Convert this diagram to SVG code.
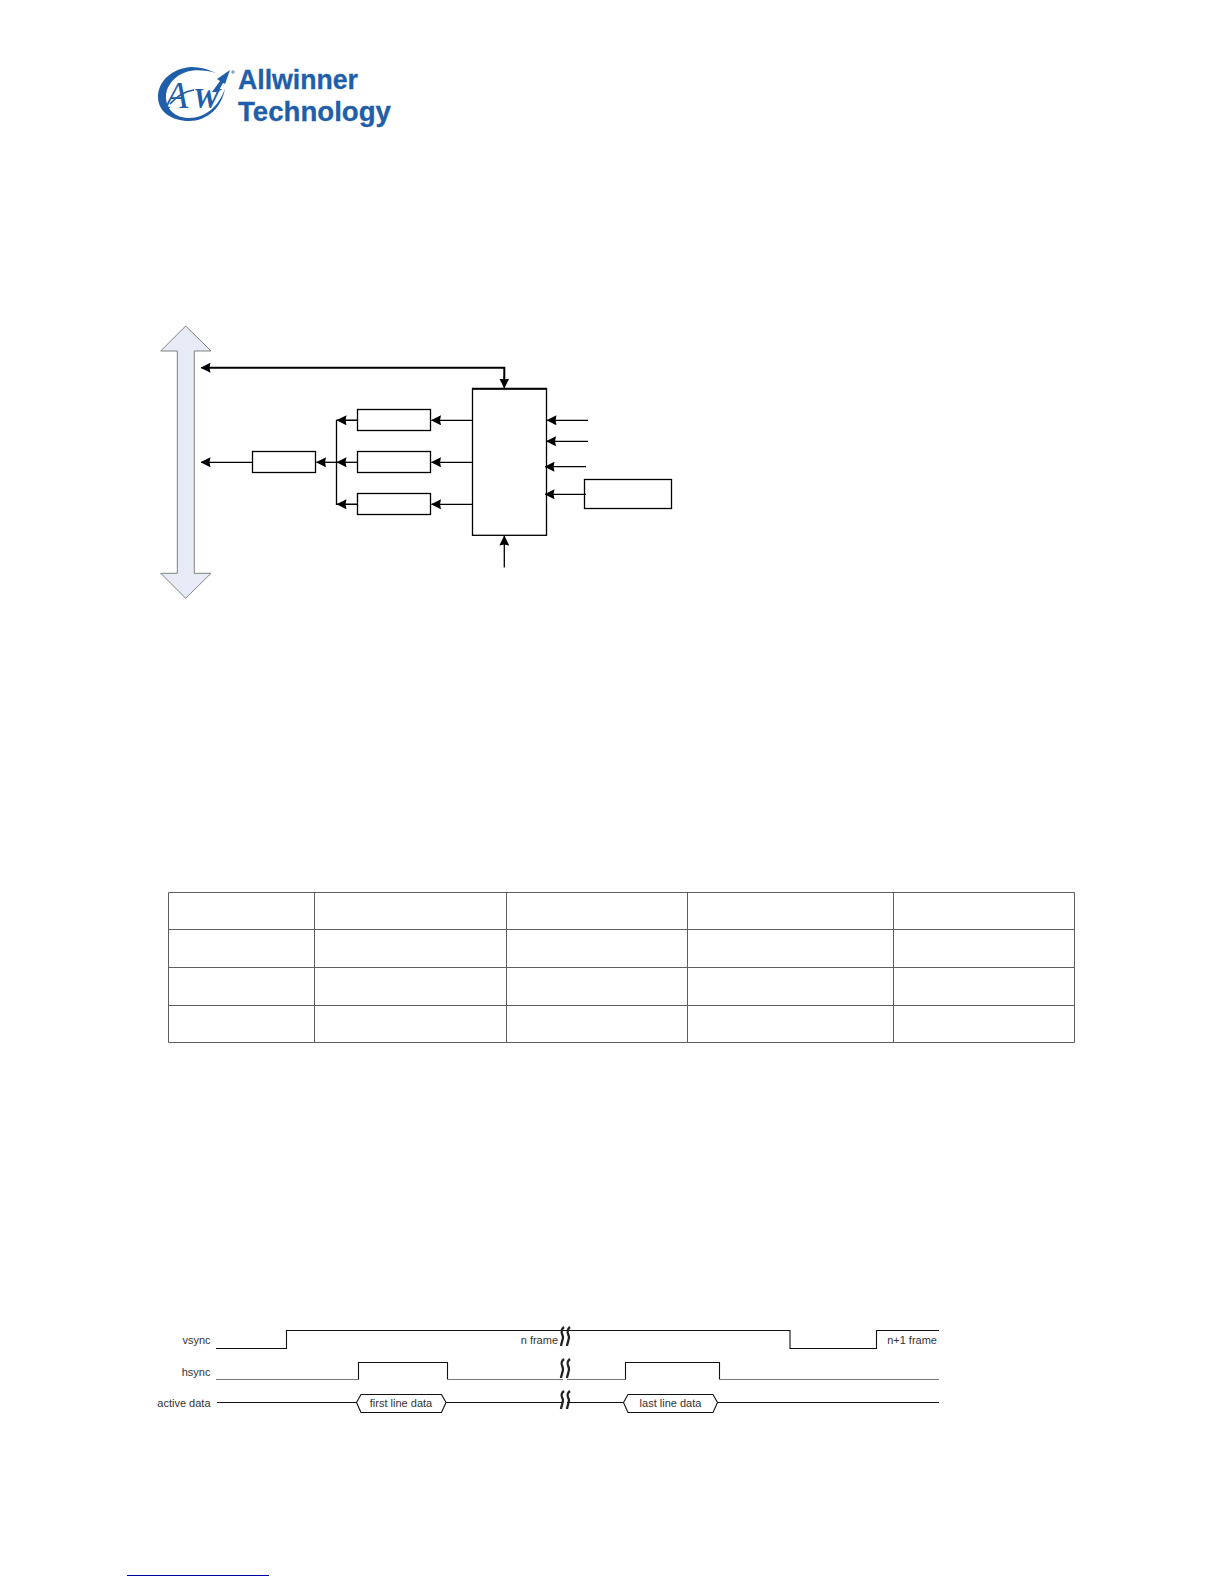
<svg xmlns="http://www.w3.org/2000/svg" width="1224" height="1584" viewBox="0 0 1224 1584">
<style>
.ln{fill:none;stroke:#000;stroke-width:1.3}
.box{fill:#fff;stroke:#000;stroke-width:1.3}
.tb{fill:none;stroke:#5f5f5f;stroke-width:1}
.wv{fill:none;stroke:#111;stroke-width:1.1}
.wg{fill:none;stroke:#777;stroke-width:1.1}
.brk{fill:none;stroke:#222;stroke-width:2.3}
.t{font-family:"Liberation Sans",Arial,sans-serif;font-size:11px;fill:#333}
.logo{font-family:"Liberation Sans",Arial,sans-serif;font-weight:bold;font-size:27px;fill:#1f5ea8;stroke:#1f5ea8;stroke-width:.3}
.aw{font-family:"Liberation Serif",serif;fill:#1f5ea8;font-style:italic}
</style>
<defs>
<marker id="ah" viewBox="0 0 10 10" refX="9.5" refY="5" markerWidth="10" markerHeight="10" markerUnits="userSpaceOnUse" orient="auto"><path d="M0 0L10 5L0 10L1 5Z" fill="#000"/></marker>
</defs>
<rect width="1224" height="1584" fill="#fff"/>
<g id="logo">
<path fill="#1f5ea8" fill-rule="evenodd" d="M216 73C208 69 200 67 192 67C172 68 158 81 158 97C158 112 172 121 189 121C207 121 222 108 225 88C220 105 206 118 189 118C175 118 166 109 166 97C166 84 178 72 193 70.5C202 70 209 71 216 73Z"/>
<path fill="#1f5ea8" d="M230 70L217 79L220 81L212 92L218 92L223 83L225 84Z"/>
<path fill="none" stroke="#1f5ea8" stroke-width="1.6" d="M170 104C178 95 186 91 194 90"/>
<text class="aw" x="165" y="108" font-size="38">A</text>
<text class="aw" x="193" y="108" font-size="30" font-weight="bold">W</text>
<circle cx="233" cy="72" r="1.7" fill="#8fa3c0"/>
<text class="logo" x="238" y="89" textLength="120" lengthAdjust="spacingAndGlyphs">Allwinner</text>
<text class="logo" x="238" y="121" textLength="153" lengthAdjust="spacingAndGlyphs">Technology</text>
</g>
<g id="bus"><path d="M185.7 326L211 351H194.3V573.3H211L185.7 598.3L160.7 573.3H177.3V351H160.7Z" fill="#e6ebf6" stroke="#808080" stroke-width="1"/></g>
<g id="box-main"><rect class="box" x="472.5" y="388.7" width="74" height="146.6"/><path d="M472 388.7H547" stroke="#000" stroke-width="2"/></g>
<g id="box-a"><rect class="box" x="357.5" y="409.5" width="73" height="21"/></g>
<g id="box-b"><rect class="box" x="357.5" y="451.5" width="73" height="21"/></g>
<g id="box-c"><rect class="box" x="357.5" y="493.5" width="73" height="21"/></g>
<g id="box-d"><rect class="box" x="252.5" y="451.5" width="63" height="21"/></g>
<g id="box-e"><rect class="box" x="584.5" y="479.5" width="87" height="29"/></g>
<g id="connectors">
<path d="M504.3 380V367.7H203" fill="none" stroke="#000" stroke-width="2"/>
<path d="M209 367.7H201" class="ln" marker-end="url(#ah)"/>
<path d="M504.3 376V388" class="ln" marker-end="url(#ah)"/>
<path class="ln" d="M252 462.3H201" marker-end="url(#ah)"/>
<path class="ln" d="M357 420.3H336.5V504.3H357"/>
<path class="ln" d="M357 420.3H337" marker-end="url(#ah)"/>
<path class="ln" d="M357 462.3H337" marker-end="url(#ah)"/>
<path class="ln" d="M357 504.3H337" marker-end="url(#ah)"/>
<path class="ln" d="M337 462.3H316.5" marker-end="url(#ah)"/>
<path class="ln" d="M472 420.3H431.5" marker-end="url(#ah)"/>
<path class="ln" d="M472 462.3H431.5" marker-end="url(#ah)"/>
<path class="ln" d="M472 504.3H431.5" marker-end="url(#ah)"/>
<path class="ln" d="M588 420.3H547" marker-end="url(#ah)"/>
<path class="ln" d="M588 441.3H546.5" marker-end="url(#ah)"/>
<path class="ln" d="M586 466.7H545" marker-end="url(#ah)"/>
<path class="ln" d="M586 494.3H545" marker-end="url(#ah)"/>
<path class="ln" d="M504.3 567.5V536" marker-end="url(#ah)"/>
</g>
<g id="table"><path class="tb" d="M168.5 892.5H1074.5V1042.5H168.5ZM168.5 929.5H1074.5M168.5 967.5H1074.5M168.5 1005.5H1074.5M314.5 892.5V1042.5M506.5 892.5V1042.5M687.5 892.5V1042.5M893.5 892.5V1042.5"/></g>
<g id="timing">
<path class="wv" d="M216 1348.5H286.5V1330.5H790V1348.5H876.5V1330.5H939"/>
<path class="wg" d="M216 1379.5H358.5"/><path class="wv" d="M358.5 1379.5V1362.5H447.5V1379.5"/><path class="wg" d="M447.5 1379.5H625.5"/><path class="wv" d="M625.5 1379.5V1362.5H719.5V1379.5"/><path class="wg" d="M719.5 1379.5H939"/>
<path class="wv" d="M217 1402.5H356.5M446 1402.5H623.5M717.5 1402.5H939"/>
<path class="wv" fill="#fff" d="M356.5 1402.5L361 1394.5H441.5L446 1402.5L441.5 1412.5H361Z"/>
<path class="wv" fill="#fff" d="M623.5 1402.5L628 1394.5H713L717.5 1402.5L713 1412.5H628Z"/>
<rect x="563" y="1376" width="4" height="7" fill="#fff"/><rect x="563" y="1399" width="4" height="7" fill="#fff"/>
<g id="breaks">
<path class="brk" d="M564 1327C559 1331 563 1335 563 1337C563 1340 561 1344 561 1346M570 1327C565 1331 569 1335 569 1337C569 1340 567 1344 567 1346"/>
<path class="brk" d="M564 1359C559 1363 563 1366 563 1369C563 1372 561 1376 561 1378M570 1359C565 1363 569 1366 569 1369C569 1372 567 1376 567 1378"/>
<path class="brk" d="M564 1391C559 1395 563 1398 563 1400C563 1403 561 1407 561 1409M570 1391C565 1395 569 1398 569 1400C569 1403 567 1407 567 1409"/>
</g>
<text class="t" x="210.5" y="1344" text-anchor="end">vsync</text>
<text class="t" x="210.5" y="1376" text-anchor="end">hsync</text>
<text class="t" x="210.5" y="1407" text-anchor="end">active data</text>
<text class="t" x="401" y="1407" text-anchor="middle">first line data</text>
<text class="t" x="670.5" y="1407" text-anchor="middle">last line data</text>
<text class="t" x="558" y="1344" text-anchor="end">n frame</text>
<text class="t" x="937" y="1344" text-anchor="end">n+1 frame</text>
</g>
<path id="footer-rule" d="M127 1575.5H269" stroke="#0000a0" stroke-width="1"/>
</svg>
